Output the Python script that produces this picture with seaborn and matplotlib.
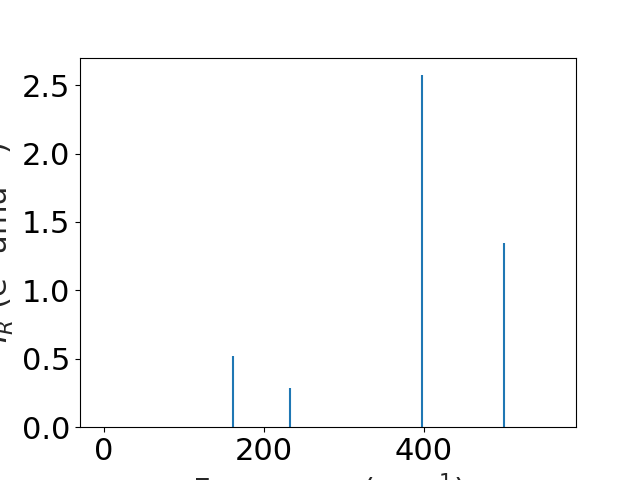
import numpy as np
import matplotlib
matplotlib.use("Agg")
import matplotlib.pyplot as plt
import seaborn as sns

# IR spectrum: mode frequencies and intensities
frequencies = [161, 233, 397.5, 500]
intensities = [0.517, 0.283, 2.573, 1.344]

sns.set_style("white")
plt.rcParams.update({
    "font.family": ["DejaVu Sans"],
    "font.size": 22,
    "axes.edgecolor": "black",
    "axes.linewidth": 0.8,
    "xtick.bottom": True,
    "ytick.left": True,
    "xtick.color": "black",
    "ytick.color": "black",
    "xtick.major.size": 3.5,
    "ytick.major.size": 3.5,
})

fig, ax = plt.subplots(figsize=(6.4, 4.8), dpi=100)
ax.vlines(frequencies, 0, intensities, color="#1f77b4", linewidth=1.5)

ax.set_xlim(-30, 590)
ax.set_ylim(0, max(intensities) * 1.05)
ax.set_xticks([0, 200, 400])
ax.set_yticks([0.0, 0.5, 1.0, 1.5, 2.0, 2.5])
ax.set_xlabel("Frequency (cm$^{-1}$)")
ax.set_ylabel("$I_R$ (e$^2$ amu$^{-1}$)")

fig.savefig("out.png", dpi=100)
